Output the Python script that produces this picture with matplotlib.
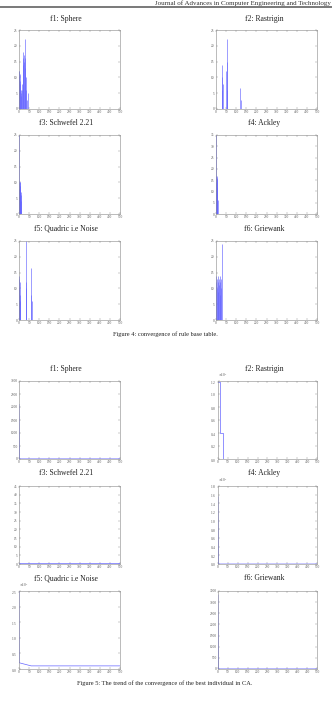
import matplotlib
matplotlib.use('Agg')
import matplotlib.pyplot as plt
from matplotlib.ticker import MultipleLocator, ScalarFormatter
from matplotlib.lines import Line2D

plt.rcParams['font.family'] = ['Liberation Serif', 'DejaVu Serif']

# ---------------- data ----------------
header_text = "Journal of Advances in Computer Engineering and Technology"
caption4 = "Figure 4: convergence of rule base table."
caption5 = "Figure 5: The trend of the convergence of the best individual in CA."
titles = ["f1: Sphere", "f2: Rastrigin", "f3: Schwefel 2.21",
          "f4: Ackley", "f5: Quadric i.e Noise", "f6: Griewank"]

# Figure 4: rule base table convergence (spikes: iteration, count)
f4_sphere_x = [0, 1, 2, 3, 4, 6, 8, 10, 12, 14, 16, 18, 20, 22, 24, 26, 28, 30, 32, 34, 36, 40, 46]
f4_sphere_y = [12, 10, 12, 9, 11, 8, 6, 5, 4, 6, 8, 14, 16, 18, 15, 17, 22, 16, 13, 10, 6, 3, 5]
f4_rastrigin_x = [28, 30, 32, 34, 50, 52, 54, 56, 120, 122]
f4_rastrigin_y = [6, 10, 14, 8, 12, 22, 15, 6, 6.6, 3]
f4_schwefel_x = [0, 1, 2, 3, 4, 5, 6, 7, 8, 9, 10]
f4_schwefel_y = [8, 10, 25, 9, 10, 8, 10, 9, 7, 6, 4]
f4_ackley_x = [0, 1, 2, 3, 4, 5, 6, 7, 8]
f4_ackley_y = [14, 17, 35, 15, 17, 12, 16, 10, 6]
f4_quadric_x = [0, 1, 2, 3, 4, 5, 33, 35, 37, 58, 60, 62]
f4_quadric_y = [14, 10, 13, 8, 12, 6, 12, 25, 10, 8, 16.5, 6]
f4_griewank_x = [0, 2, 4, 6, 8, 10, 12, 14, 16, 18, 20, 22, 24, 26, 28]
f4_griewank_y = [14, 12, 13, 10, 14, 12, 9, 13, 11, 8, 12, 14, 10, 13, 24]
f4_ymax = [25, 25, 25, 35, 25, 25]

# Figure 5: best individual convergence
f5_sphere_x = [0, 2, 500]
f5_sphere_y = [2100, 5, 5]
f5_rastrigin_x = [0, 10, 10, 25, 25, 500]
f5_rastrigin_y = [11800, 11800, 4000, 4000, 0, 0]
f5_schwefel_x = [0, 500]
f5_schwefel_y = [0.3, 0.3]
f5_ackley_x = [0, 2, 500]
f5_ackley_y = [1.55e4, 0, 0]
f5_quadric_x = [0, 1, 60, 500]
f5_quadric_y = [2.5e4, 0.2e4, 0.1e4, 0.1e4]
f5_griewank_x = [0, 2, 500]
f5_griewank_y = [3320, 5, 5]
f5_ylim = [3000, 12000, 45, 18000, 25000, 3500]
f5_ystep = [500, 2000, 5, 2000, 5000, 500]

# ---------------- layout ----------------
W, H = 332, 712
fig = plt.figure(figsize=(W / 100, H / 100), dpi=100)


def px_axes(l, t, r, b):
    return fig.add_axes([l / W, 1 - b / H, (r - l) / W, (b - t) / H])


def style(ax):
    for s in ax.spines.values():
        s.set_linewidth(0.4)
        s.set_color('#888888')
    ax.tick_params(direction='in', length=1.5, width=0.3, colors='#888888',
                   labelsize=2.5, labelcolor='#555555', pad=1.0,
                   top=True, right=True)
    ax.set_xlim(0, 500)
    ax.xaxis.set_major_locator(MultipleLocator(50))


cols = [(19, 120), (216, 317)]
rows4 = [(30, 109), (135, 214), (241, 320)]
rows5 = [(381, 459), (486, 564), (591, 669)]
title_y4 = [19, 123, 229]
title_y5 = [369, 473, 578]
title_x = [66, 264]
blue = (0.4, 0.4, 1.0)

# header
fig.text(331 / W, 1 - 4.5 / H, header_text, fontsize=5.0, ha='right', va='baseline', color='#333333')
fig.add_artist(Line2D([0, 1], [1 - 6.5 / H, 1 - 6.5 / H], transform=fig.transFigure,
                      color='#555555', linewidth=1.1))

f4_data = [(f4_sphere_x, f4_sphere_y), (f4_rastrigin_x, f4_rastrigin_y),
           (f4_schwefel_x, f4_schwefel_y), (f4_ackley_x, f4_ackley_y),
           (f4_quadric_x, f4_quadric_y), (f4_griewank_x, f4_griewank_y)]
f5_data = [(f5_sphere_x, f5_sphere_y), (f5_rastrigin_x, f5_rastrigin_y),
           (f5_schwefel_x, f5_schwefel_y), (f5_ackley_x, f5_ackley_y),
           (f5_quadric_x, f5_quadric_y), (f5_griewank_x, f5_griewank_y)]

for i, (xs, ys) in enumerate(f4_data):
    r, c = divmod(i, 2)
    ax = px_axes(cols[c][0], rows4[r][0], cols[c][1], rows4[r][1])
    ax.vlines(xs, 0, ys, color=blue, linewidth=0.45)
    style(ax)
    ax.set_ylim(0, f4_ymax[i])
    ax.yaxis.set_major_locator(MultipleLocator(5))
    fig.text(title_x[c] / W, 1 - title_y4[r] / H, titles[i], fontsize=5.5,
             ha='center', va='center', color='#222222')

for i, (xs, ys) in enumerate(f5_data):
    r, c = divmod(i, 2)
    ax = px_axes(cols[c][0] + (2 if c == 1 else 0), rows5[r][0], cols[c][1], rows5[r][1])
    ax.plot(xs, ys, color=blue, linewidth=0.5)
    style(ax)
    ax.set_ylim(0, f5_ylim[i])
    ax.yaxis.set_major_locator(MultipleLocator(f5_ystep[i]))
    if f5_ylim[i] >= 10000:
        fmt = ScalarFormatter(useMathText=True)
        fmt.set_powerlimits((0, 0))
        ax.yaxis.set_major_formatter(fmt)
        ax.yaxis.get_offset_text().set_fontsize(2.5)
        ax.yaxis.get_offset_text().set_color('#555555')
    fig.text(title_x[c] / W, 1 - title_y5[r] / H, titles[i], fontsize=5.5,
             ha='center', va='center', color='#222222')

fig.text(165 / W, 1 - 334 / H, caption4, fontsize=4.6, ha='center', va='center', color='#222222')
fig.text(165 / W, 1 - 683 / H, caption5, fontsize=4.6, ha='center', va='center', color='#222222')

fig.savefig('out.png', dpi=100)
